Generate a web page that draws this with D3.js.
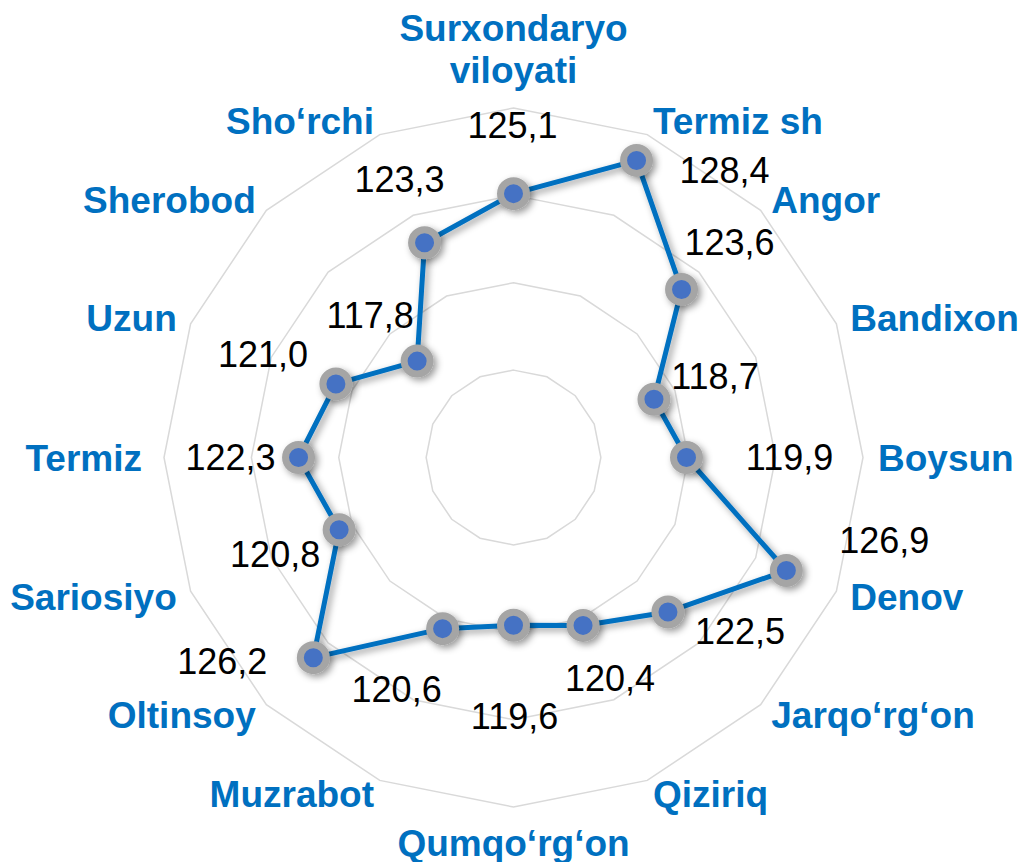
<!DOCTYPE html>
<html>
<head>
<meta charset="utf-8">
<script src="https://cdn.jsdelivr.net/npm/d3@7"></script>
<style>
  html, body { margin: 0; padding: 0; background: #ffffff; }
  svg { display: block; }
</style>
</head>
<body>
<svg id="chart" width="1021" height="862"></svg>
<script>
// ---- data ----
const categories = [
  ["Surxondaryo", "viloyati"], ["Termiz sh"], ["Angor"], ["Bandixon"], ["Boysun"],
  ["Denov"], ["Jarqo‘rg‘on"], ["Qiziriq"], ["Qumqo‘rg‘on"], ["Muzrabot"],
  ["Oltinsoy"], ["Sariosiyo"], ["Termiz"], ["Uzun"], ["Sherobod"], ["Sho‘rchi"]
];
const values = [125.1, 128.4, 123.6, 118.7, 119.9, 126.9, 122.5, 120.4,
                119.6, 120.6, 126.2, 120.8, 122.3, 121.0, 117.8, 123.3];
const valueLabels = ["125,1", "128,4", "123,6", "118,7", "119,9", "126,9", "122,5", "120,4",
                     "119,6", "120,6", "126,2", "120,8", "122,3", "121,0", "117,8", "123,3"];
const axisMin = 110, axisMax = 130;
const ringTicks = [115, 120, 125, 130];

// ---- layout / style (not data) ----
const cx = 513.5, cy = 457.5, R = 349.5;
const labelNudge = [
  [-1, -68], [88, 10], [48, -47], [61, -23], [103, 0], [98, -30], [72, 20], [27, 53],
  [1, 91], [-46, 61], [-91, 4], [-64, 25], [-68, 0], [-73, -29], [-47, -46], [-25, -63]
];
const blue = "#0070C0";

const svg = d3.select("#chart");
const defs = svg.append("defs");
const f = defs.append("filter").attr("id", "shadow")
  .attr("x", "-50%").attr("y", "-50%").attr("width", "200%").attr("height", "200%");
f.append("feDropShadow").attr("dx", 3).attr("dy", 3).attr("stdDeviation", 3.5)
  .attr("flood-color", "#000").attr("flood-opacity", 0.4);

const g = svg.append("g").attr("transform", `translate(${cx},${cy})`);

const n = categories.length;
const angle = d3.scaleLinear().domain([0, n]).range([0, 2 * Math.PI]);
const r = d3.scaleLinear().domain([axisMin, axisMax]).range([0, R]);

// grid rings (polygons)
const ringLine = d3.lineRadial().curve(d3.curveLinearClosed);
g.append("g").selectAll("path").data(ringTicks).join("path")
  .attr("d", t => ringLine(d3.range(n).map(i => [angle(i), r(t)])))
  .attr("fill", "none").attr("stroke", "#d9d9d9").attr("stroke-width", 1.5);

// series line
const pts = values.map((v, i) => [angle(i), r(v)]);
g.append("path")
  .attr("d", ringLine(pts))
  .attr("fill", "none").attr("stroke", blue).attr("stroke-width", 5)
  .attr("stroke-linejoin", "round")
  .attr("filter", "url(#shadow)");

// markers
const xy = (a, rad) => [rad * Math.sin(a), -rad * Math.cos(a)];
g.append("g").selectAll("circle").data(values).join("circle")
  .attr("cx", (v, i) => xy(angle(i), r(v))[0])
  .attr("cy", (v, i) => xy(angle(i), r(v))[1])
  .attr("r", 13)
  .attr("fill", "#4472C4").attr("stroke", "#a5a5a5").attr("stroke-width", 7)
  .attr("filter", "url(#shadow)");

// value labels
g.append("g").selectAll("text").data(values).join("text")
  .attr("x", (v, i) => xy(angle(i), r(v))[0] + labelNudge[i][0])
  .attr("y", (v, i) => xy(angle(i), r(v))[1] + labelNudge[i][1])
  .attr("text-anchor", "middle").attr("dominant-baseline", "central")
  .attr("font-family", "Liberation Sans, Arial, sans-serif")
  .attr("font-size", 36).attr("fill", "#000")
  .text((v, i) => valueLabels[i]);

// category labels
const catG = g.append("g");
categories.forEach((lines, i) => {
  const a = angle(i);
  const s = Math.sin(a), c = Math.cos(a);
  const gap = s < -0.99 ? 22 : 15;
  const [x, y] = xy(a, R + gap);
  const anchor = s > 0.05 ? "start" : (s < -0.05 ? "end" : "middle");
  const lh = 42;
  let y0;
  if (c > 0.95) y0 = y - 10 - (lines.length - 1) * lh - 13;      // top: stack above
  else if (c < -0.95) y0 = y + 21;                               // bottom: hang below
  else y0 = y - (lines.length - 1) * lh / 2;
  const t = catG.append("text")
    .attr("text-anchor", anchor).attr("dominant-baseline", "central")
    .attr("font-family", "Liberation Sans, Arial, sans-serif")
    .attr("font-weight", "bold").attr("font-size", 37).attr("fill", blue);
  lines.forEach((ln, k) => {
    t.append("tspan").attr("x", x).attr("y", y0 + k * lh).text(ln);
  });
});
</script>
</body>
</html>
